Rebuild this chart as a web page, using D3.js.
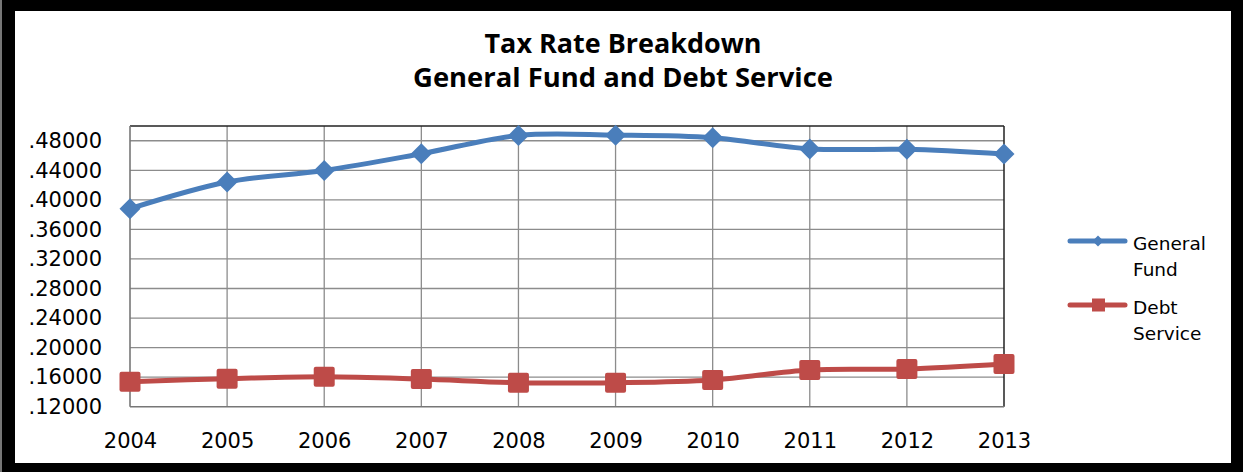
<!DOCTYPE html>
<html>
<head>
<meta charset="utf-8">
<script src="https://cdn.jsdelivr.net/npm/d3@7/dist/d3.min.js"></script>
<style>
  html, body { margin: 0; padding: 0; background: #000; }
  svg { display: block; }
</style>
</head>
<body>
<svg id="chart" width="1243" height="472"></svg>
<script>
// ---- data ----
const years = ["2004","2005","2006","2007","2008","2009","2010","2011","2012","2013"];
const generalFund = [0.3880, 0.4241, 0.4398, 0.4624, 0.4872, 0.4876, 0.4841, 0.4690, 0.4684, 0.4620];
const debtService = [0.1539, 0.1579, 0.1607, 0.1575, 0.1525, 0.1525, 0.1562, 0.1697, 0.1711, 0.1779];
const yTicks = [0.12, 0.16, 0.20, 0.24, 0.28, 0.32, 0.36, 0.40, 0.44, 0.48];
const seriesNames = [["General", "Fund"], ["Debt", "Service"]];
const titleLines = ["Tax Rate Breakdown", "General Fund and Debt Service"];

const svg = d3.select("#chart");
const W = 1243, H = 472;

// frame
svg.append("rect").attr("x", 0).attr("y", 0).attr("width", W).attr("height", H).attr("fill", "#000");
svg.append("rect").attr("x", 0).attr("y", 0).attr("width", 2).attr("height", H).attr("fill", "#777");
svg.append("rect").attr("x", 15).attr("y", 11).attr("width", 1216).attr("height", 452).attr("fill", "#fff");

const plot = { left: 130, right: 1004, top: 126, bottom: 406.7 };

const x = d3.scalePoint().domain(years).range([plot.left, plot.right]).padding(0);
const y = d3.scaleLinear().domain([0.12, 0.50]).range([plot.bottom, plot.top]);

const gridColor = "#8c8c8c";
const g = svg.append("g");

// horizontal gridlines
g.append("g").selectAll("line").data(yTicks.filter(d => d > 0.12))
  .join("line")
  .attr("x1", plot.left).attr("x2", plot.right)
  .attr("y1", d => y(d)).attr("y2", d => y(d))
  .attr("stroke", gridColor).attr("stroke-width", 1.3);

// vertical gridlines
g.append("g").selectAll("line").data(years.slice(1, -1))
  .join("line")
  .attr("x1", d => x(d)).attr("x2", d => x(d))
  .attr("y1", plot.top).attr("y2", plot.bottom)
  .attr("stroke", gridColor).attr("stroke-width", 1.3);

// plot border: top & right dark, left & bottom gray
g.append("line").attr("x1", plot.left).attr("x2", plot.right).attr("y1", plot.top).attr("y2", plot.top)
  .attr("stroke", "#222").attr("stroke-width", 1.5);
g.append("line").attr("x1", plot.right).attr("x2", plot.right).attr("y1", plot.top).attr("y2", plot.bottom)
  .attr("stroke", "#222").attr("stroke-width", 1.5);

// axes
const fmt = d => d3.format(".5f")(d).replace(/^0/, "");
const yAxis = svg.append("g").attr("transform", `translate(${plot.left},0)`)
  .call(d3.axisLeft(y).tickValues(yTicks).tickFormat(fmt).tickSize(0).tickPadding(28));
const xAxis = svg.append("g").attr("transform", `translate(0,${plot.bottom})`)
  .call(d3.axisBottom(x).tickSize(0).tickPadding(26));
[yAxis, xAxis].forEach(a => {
  a.select(".domain").attr("stroke", "#777").attr("stroke-width", 1.6);
  a.selectAll("text").attr("fill", "#000")
    .style("font-family", "'DejaVu Sans', Verdana, sans-serif").style("font-size", "21px");
});
xAxis.select(".domain").attr("d", `M${plot.left},0H${plot.right}`);
yAxis.select(".domain").attr("d", `M0,${plot.bottom}V${plot.top}`);

// lines
const curve = d3.curveCardinal.tension(0);
const line = d3.line().x((d, i) => x(years[i])).y(d => y(d)).curve(curve);
const blue = "#4a7ebb", red = "#be4b48";

svg.append("path").datum(generalFund).attr("d", line)
  .attr("fill", "none").attr("stroke", blue).attr("stroke-width", 5).attr("stroke-linejoin", "round");
svg.append("path").datum(debtService).attr("d", line)
  .attr("fill", "none").attr("stroke", red).attr("stroke-width", 5).attr("stroke-linejoin", "round");

// markers
const diamond = s => `M0,${-s}L${s},0L0,${s}L${-s},0Z`;
svg.append("g").selectAll("path").data(generalFund).join("path")
  .attr("transform", (d, i) => `translate(${x(years[i])},${y(d)})`)
  .attr("d", diamond(10.5)).attr("fill", blue);
svg.append("g").selectAll("rect").data(debtService).join("rect")
  .attr("x", (d, i) => x(years[i]) - 10.5).attr("y", d => y(d) - 10)
  .attr("width", 21).attr("height", 20).attr("rx", 2).attr("fill", red);

// title
const title = svg.append("g").style("font-family", "'Open Sans', sans-serif").style("font-weight", "bold");
const titleY = [53, 86.5];
const titleW = [277, 420];
titleLines.forEach((t, i) => {
  const tx = title.append("text").attr("x", 623).attr("y", titleY[i]).attr("text-anchor", "middle")
    .style("font-size", "100px").attr("fill", "#000").text(t);
  const len = tx.node().getComputedTextLength();
  tx.style("font-size", (100 * titleW[i] / len).toFixed(2) + "px");
});

// legend
const legend = svg.append("g").style("font-family", "'DejaVu Sans', Verdana, sans-serif").style("font-size", "18.5px");
const legY = [241, 305];
const colors = [blue, red];
seriesNames.forEach((names, i) => {
  const lg = legend.append("g");
  lg.append("line").attr("x1", 1070).attr("x2", 1125).attr("y1", legY[i]).attr("y2", legY[i])
    .attr("stroke", colors[i]).attr("stroke-width", 5).attr("stroke-linecap", "round");
  if (i === 0) {
    lg.append("path").attr("transform", `translate(1098,${legY[i]})`).attr("d", diamond(5.5)).attr("fill", blue);
  } else {
    lg.append("rect").attr("x", 1092).attr("y", legY[i] - 6.5).attr("width", 13).attr("height", 13).attr("fill", red);
  }
  names.forEach((n, j) => {
    lg.append("text").attr("x", 1133).attr("y", legY[i] + 8.5 + j * 26).attr("fill", "#000").text(n);
  });
});
</script>
</body>
</html>
